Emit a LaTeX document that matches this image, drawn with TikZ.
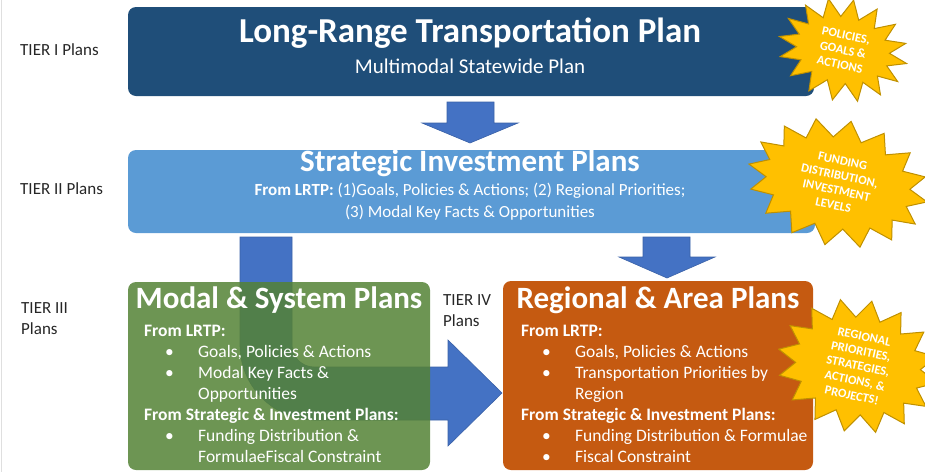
\documentclass[tikz,border=0pt]{standalone}
\usepackage{fontspec}
\setmainfont{Carlito}
\usetikzlibrary{shapes.symbols,positioning}

\definecolor{tierone}{HTML}{1F4E79}
\definecolor{tiertwo}{HTML}{5B9BD5}
\definecolor{flowblue}{HTML}{4472C4}
\definecolor{modalgreen}{HTML}{548235}
\definecolor{regionorange}{HTML}{C55A11}
\definecolor{burstgold}{HTML}{FFC000}
\definecolor{burstedge}{HTML}{BF9000}
\definecolor{labelgray}{HTML}{262626}

\newcommand{\bodyfont}{\fontsize{17.5}{21}\selectfont}
\newcommand{\bitem}[1]{\makebox[54pt][l]{\hspace*{21pt}\textbullet}#1}
\newcommand{\bcont}[1]{\hspace*{54pt}#1}

\tikzset{
  planbox/.style={rounded corners=8pt, inner sep=0pt},
  titletext/.style={text=white, inner sep=0pt, font=\bfseries\fontsize{31}{36}\selectfont},
  plaintext/.style={text=white, inner sep=0pt, font=\bodyfont, align=center},
  listtext/.style={text=white, inner sep=0pt, font=\bodyfont, align=left, anchor=north west},
  tierlabel/.style={text=labelgray, inner sep=0pt, anchor=west, align=left,
    font=\fontsize{17}{21}\selectfont},
  blockarrow/.style={fill=flowblue, draw=flowblue!85!black, line width=0.6pt},
  burst/.style={shape=starburst, starburst points=16, starburst point height=18pt,
    random starburst=0, fill=burstgold, draw=burstedge, line width=1pt,
    text=white, align=center, inner sep=0pt,
    font=\bfseries\fontsize{12.5}{15}\selectfont}
}

\begin{document}
\begin{tikzpicture}[x=1pt,y=-1pt]
    \useasboundingbox (0,0) rectangle (925,472);
    \draw[gray!25, line width=1pt] (1.5,0) -- (1.5,472);

    % Tier labels
    \node[tierlabel] (tierone) at (20,50) {TIER I Plans};
    \node[tierlabel] (tiertwo) at (20,189) {TIER II Plans};
    \node[tierlabel] (tierthree) at (21,319) {TIER III\\Plans};
    \node[tierlabel] (tierfour) at (443,311) {TIER IV\\Plans};

    % Tier I
    \node[planbox, fill=tierone, minimum width=686pt, minimum height=89pt] (lrtp) at (471,51.5) {};
    \node[titletext, font=\bfseries\fontsize{35}{40}\selectfont] (lrtptitle) at (470,33) {Long-Range Transportation Plan};
    \node[plaintext, font=\fontsize{21}{25}\selectfont] (lrtpsub) at (470,66) {Multimodal Statewide Plan};

    % Tier I -> Tier II
    \filldraw[blockarrow] (447,102) -- (494,102) -- (494,123) -- (518,123) -- (470,143)
        -- (422,123) -- (447,123) -- cycle;

    % Tier II
    \node[planbox, fill=tiertwo, minimum width=687pt, minimum height=83pt] (sip) at (471.5,191.5) {};
    \node[titletext] (siptitle) at (470,163) {Strategic Investment Plans};
    \node[plaintext, font=\fontsize{17}{22}\selectfont] (sipsub) at (470,202)
        {\textbf{From LRTP:} (1)Goals, Policies \& Actions; (2) Regional Priorities;\\(3) Modal Key Facts \& Opportunities};

    % Tier II -> Tier III and Tier IV
    \filldraw[blockarrow] (643,237) -- (690,237) -- (690,257) -- (715,257) -- (667,278)
        -- (619,257) -- (643,257) -- cycle;
    \filldraw[blockarrow] (240,237) -- (240,345) .. controls (240,386.4) and (273.6,420) .. (315,420)
        -- (448,420) -- (448,446) -- (502,393) -- (448,340) -- (448,367) -- (314,367)
        .. controls (301.9,367) and (292,357.1) .. (292,345) -- (292,237) -- cycle;

    % Tier III
    \node[planbox, fill=modalgreen, fill opacity=0.85, minimum width=302pt, minimum height=188pt] (modal) at (279,376) {};
    \node[titletext] (modaltitle) at (279,300) {Modal \& System Plans};
    \node[listtext] (modallist) at (144,325) {\textbf{From LRTP:}\\
        \bitem{Goals, Policies \& Actions}\\
        \bitem{Modal Key Facts \&}\\
        \bcont{Opportunities}\\
        \textbf{From Strategic \& Investment Plans:}\\
        \bitem{Funding Distribution \&}\\
        \bcont{FormulaeFiscal Constraint}};

    % Tier IV
    \node[planbox, fill=regionorange, minimum width=310pt, minimum height=189pt] (region) at (658,375.5) {};
    \node[titletext] (regiontitle) at (658,300) {Regional \& Area Plans};
    \node[listtext] (regionlist) at (521,325) {\textbf{From LRTP:}\\
        \bitem{Goals, Policies \& Actions}\\
        \bitem{Transportation Priorities by}\\
        \bcont{Region}\\
        \textbf{From Strategic \& Investment Plans:}\\
        \bitem{Funding Distribution \& Formulae}\\
        \bitem{Fiscal Constraint}};

    % Callouts
    \node[burst, minimum width=130pt, minimum height=102pt, rotate=-12] (burstone) at (843,50)
        {POLICIES,\\GOALS \&\\ACTIONS};
    \node[burst, minimum width=182pt, minimum height=126pt, rotate=-12] (bursttwo) at (838,183)
        {FUNDING\\DISTRIBUTION,\\INVESTMENT\\LEVELS};
    \node[burst, minimum width=162pt, minimum height=128pt, rotate=-12] (burstthree) at (858,366)
        {REGIONAL\\PRIORITIES,\\STRATEGIES,\\ACTIONS, \&\\PROJECTS!};
\end{tikzpicture}
\end{document}
